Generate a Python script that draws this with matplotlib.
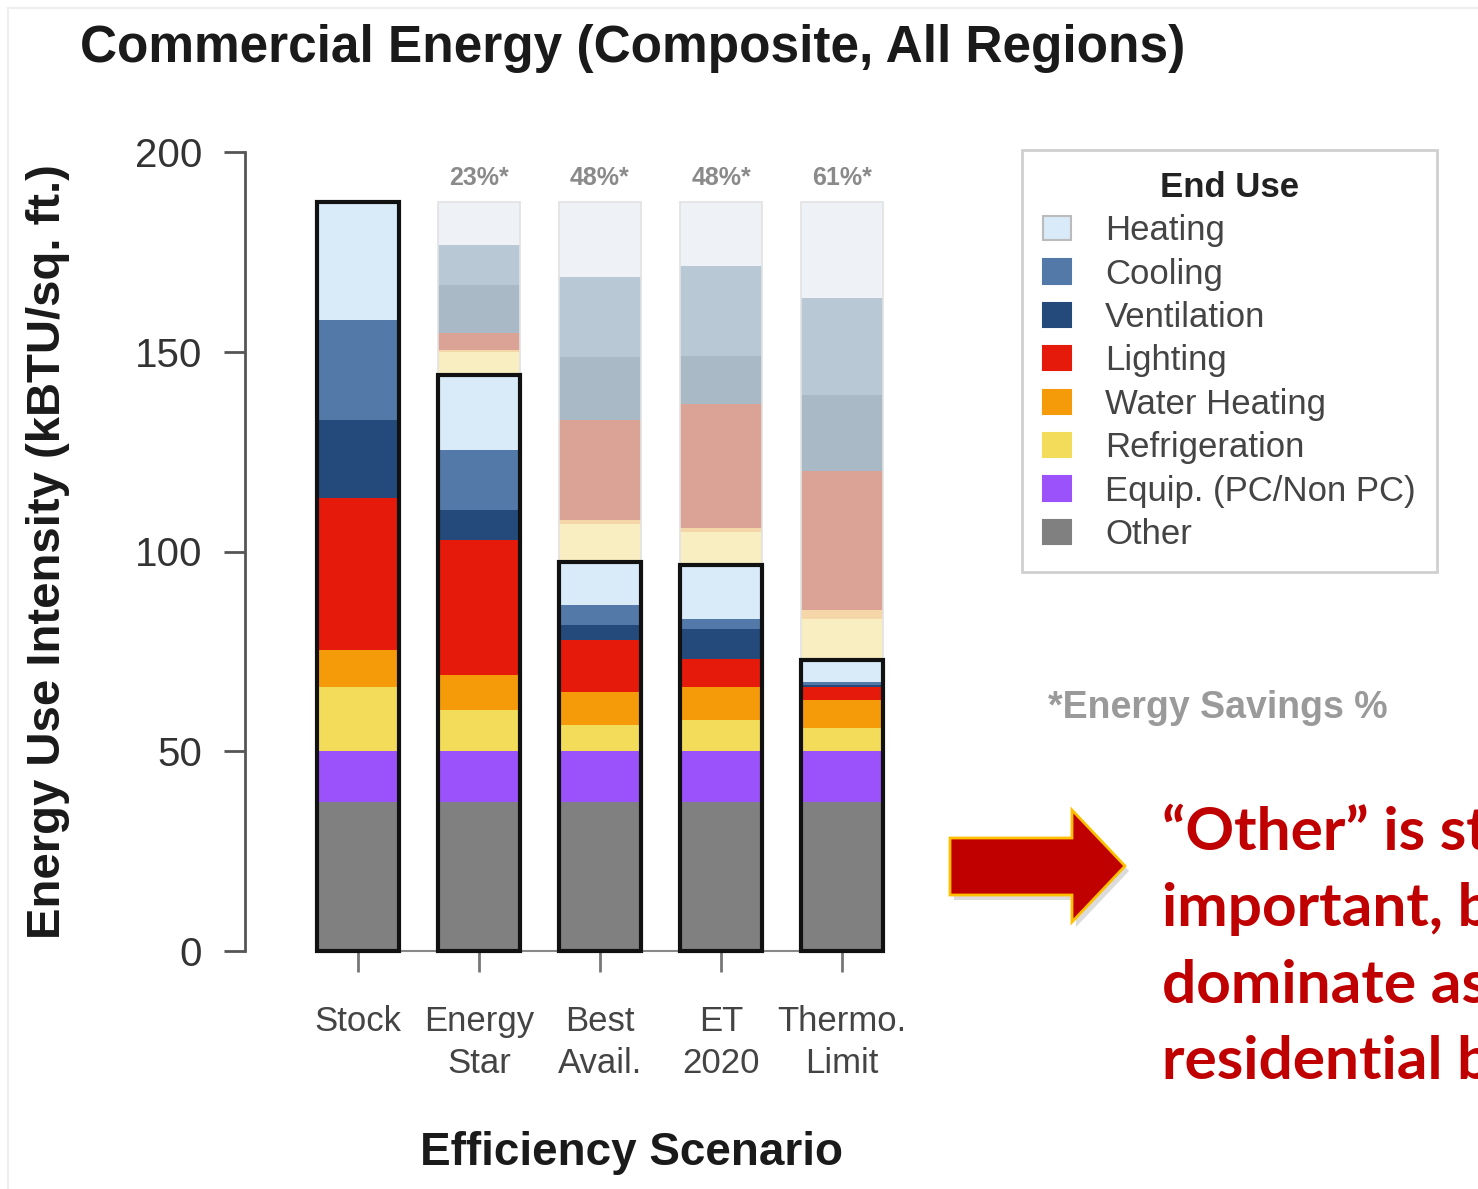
import matplotlib
matplotlib.use("Agg")
import matplotlib.pyplot as plt
from matplotlib.patches import Patch, Polygon
import numpy as np

plt.rcParams['font.family'] = ['Liberation Sans', 'DejaVu Sans']

W, H = 1478, 1189

scenarios = ["Stock", "Energy\nStar", "Best\nAvail.", "ET\n2020", "Thermo.\nLimit"]
end_uses = ["Heating", "Cooling", "Ventilation", "Lighting", "Water Heating",
            "Refrigeration", "Equip. (PC/Non PC)", "Other"]

# energy use intensity per end use (kBTU/sq. ft.), one value per scenario
heating = [29.5, 18.8, 10.8, 13.5, 5.5]
cooling = [25.0, 15.0, 5.0, 2.5, 0.7]
ventilation = [19.6, 7.5, 3.8, 7.6, 0.6]
lighting = [38.0, 33.9, 13.0, 7.0, 3.2]
water_heating = [9.3, 8.7, 8.2, 8.2, 7.0]
refrigeration = [16.0, 10.3, 6.6, 7.8, 5.8]
equipment = [12.7, 12.7, 12.7, 12.7, 12.7]
other = [37.3, 37.3, 37.3, 37.3, 37.3]

values = [heating, cooling, ventilation, lighting, water_heating,
          refrigeration, equipment, other]
colors = ["#d9eaf9", "#5279a8", "#234a7a", "#e61a0a", "#f59b0a",
          "#f3dc5a", "#9c52fb", "#808080"]
# washed-out colours for the energy saved compared to stock
faded = ["#eef2f7", "#b8c8d4", "#a9b9c5", "#dba296", "#f5d6a8",
         "#f8eec2", "#dccaf5", "#d0d0d0"]

fig = plt.figure(figsize=(W / 100, H / 100), dpi=100)
ax = fig.add_axes([245 / W, 1 - 951 / H, (905 - 245) / W, (951 - 152) / H])

x = np.arange(len(scenarios))
width = 0.68

# stack from the bottom: Other first, Heating last
order = list(range(len(end_uses)))[::-1]
bottom = np.zeros(len(x))
for k in order:
    v = np.array(values[k])
    ax.bar(x, v, width, bottom=bottom, color=colors[k], linewidth=0, zorder=2)
    bottom += v
totals = bottom.copy()

# savings relative to stock, stacked above each scenario
stock = np.array([v[0] for v in values])
top = totals.copy()
for k in order:
    saved = stock[k] - np.array(values[k])
    ax.bar(x[1:], saved[1:], width, bottom=top[1:], color=faded[k],
           linewidth=0, zorder=1)
    top[1:] += saved[1:]
ax.bar(x[1:], top[1:] - totals[1:], width, bottom=totals[1:], fill=False,
       edgecolor="#e2e2e2", linewidth=1.2, zorder=1)

ax.bar(x, totals, width, fill=False, edgecolor="#111111", linewidth=3,
       zorder=3, clip_on=False)

stock_total = totals[0]
for i in x[1:]:
    pct = round((1 - totals[i] / stock_total) * 100)
    ax.text(i, stock_total + 6, f"{pct}%*", ha="center", va="center",
            fontsize=18, color="#8a8a8a", fontweight="bold")

ax.set_xlim(-(358 - 245) / 121, 4 + (905 - 842) / 121)
ax.set_ylim(0, 200)
ax.set_yticks([0, 50, 100, 150, 200])
ax.set_xticks(x)
ax.set_xticklabels(scenarios, linespacing=1.35)

for s in ["top", "right"]:
    ax.spines[s].set_visible(False)
ax.spines["left"].set_color("#555555")
ax.spines["left"].set_linewidth(2)
ax.spines["bottom"].set_color("#888888")
ax.spines["bottom"].set_linewidth(1.5)
ax.spines["bottom"].set_bounds(0, 4)
ax.patch.set_alpha(0)

ax.tick_params(axis="y", length=15, width=2, color="#555555",
               labelsize=29, labelcolor="#333333", pad=16)
ax.tick_params(axis="x", length=15, width=2, color="#777777",
               labelsize=25, labelcolor="#444444", pad=24)

fig.text(80 / W, 1 - 62 / H, "Commercial Energy (Composite, All Regions)",
         fontsize=37, fontweight="bold", color="#1a1a1a", va="baseline")
fig.text(48 / W, 1 - 552 / H, "Energy Use Intensity (kBTU/sq. ft.)",
         rotation=90, ha="center", va="center", fontsize=34,
         fontweight="bold", color="#1a1a1a")
fig.text(632 / W, 1 - 1153 / H, "Efficiency Scenario", ha="center",
         va="center", fontsize=33, fontweight="bold", color="#1a1a1a")

# legend
handles = []
for k in range(len(end_uses)):
    edge = "#bbbbbb" if k == 0 else colors[k]
    handles.append(Patch(facecolor=colors[k], edgecolor=edge, linewidth=1.5))
leg = fig.legend(handles, end_uses, title="End Use", loc="upper left",
                 bbox_to_anchor=(1022 / W, 1 - 150 / H), fontsize=25,
                 title_fontproperties={"weight": "bold", "size": 25},
                 frameon=True, fancybox=False, edgecolor="#c4c4c4",
                 handlelength=0.8, handleheight=0.7, labelspacing=0.3,
                 handletextpad=1.0, borderpad=0.6, borderaxespad=0)
leg.get_frame().set_linewidth(2)
for t in leg.get_texts():
    t.set_color("#444444")
leg.get_title().set_color("#222222")

fig.text(1218 / W, 1 - 708 / H, "*Energy Savings %", ha="center",
         va="center", fontsize=27, fontweight="bold", color="#9a9a9a")

# overlay in pixel units for the callout
ov = fig.add_axes([0, 0, 1, 1])
ov.set_xlim(0, W)
ov.set_ylim(H, 0)
ov.axis("off")
ov.patch.set_alpha(0)

ov.plot([8, W], [8, 8], color="#eeeeee", lw=1.5)
ov.plot([8, 8], [8, H], color="#eeeeee", lw=1.5)

arrow = [(950, 838), (1072, 838), (1072, 810), (1125, 866),
         (1072, 922), (1072, 895), (950, 895)]
shadow = [(px + 4, py + 5) for px, py in arrow]
ov.add_patch(Polygon(shadow, closed=True, facecolor="#999999", alpha=0.35,
                     edgecolor="none"))
ov.add_patch(Polygon(arrow, closed=True, facecolor="#c00000",
                     edgecolor="#ffc000", linewidth=2, joinstyle="miter"))

callout = ["\u201cOther\u201d is still", "important, but",
           "dominate as in", "residential buildings"]
baselines = [850, 926, 1003, 1079]
for line, yb in zip(callout, baselines):
    ov.text(1162, yb, line, fontsize=43.5, fontweight="bold",
            color="#c00000", family=["Lato", "DejaVu Sans"], va="baseline")

fig.savefig("out.png", dpi=100)
